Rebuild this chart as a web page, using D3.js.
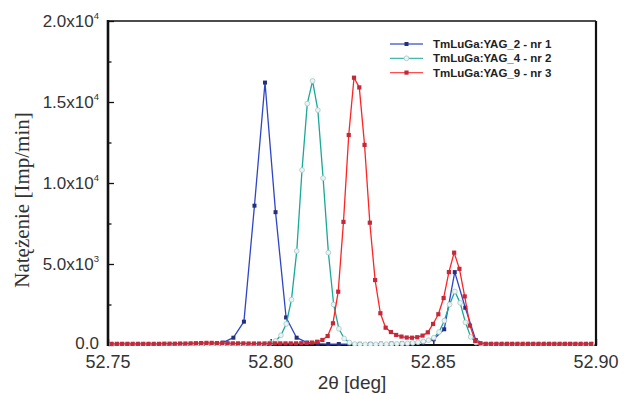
<!DOCTYPE html>
<html><head><meta charset="utf-8">
<script src="https://cdn.jsdelivr.net/npm/d3@7"></script>
<style>html,body{margin:0;padding:0;background:#fff;}svg{display:block;}</style>
</head><body>
<script>
// ---- data ----
const xDomain = [52.75, 52.90];
const yDomain = [0, 20000];
const xTicks = [52.75, 52.80, 52.85, 52.90];
const xTickLabels = ["52.75", "52.80", "52.85", "52.90"];
const yTicks = [0, 5000, 10000, 15000, 20000];
const yTickMant = ["0.0", "5.0x10", "1.0x10", "1.5x10", "2.0x10"];
const yTickExp = ["", "3", "4", "4", "4"];
const seriesNames = ["TmLuGa:YAG_2 - nr 1", "TmLuGa:YAG_4 - nr 2", "TmLuGa:YAG_9 - nr 3"];

// scan grids (start, step) and measured intensities
const blueStart = 52.7529, blueStep = 0.00324;
const blueY = [30,30,30,30,30,40,40,50,50,60,150,450,1440,8600,16200,8200,1700,450,150,80,
  60,60,60,70,70,80,90,100,120,160,350,970,4500,2300,300,60,40,40,40,40,40,40,40,40,40,40];

const cyanStart = 52.7497, cyanStep = 0.00162;
const cyanY = [30,30,30,30,30,30,30,30,30,30,30,30,30,30,30,30,30,30,30,30,
  30,30,30,30,35,35,35,40,40,40,
  70,120,250,600,1300,2800,5800,10800,14900,16300,14500,10300,5700,2500,1000,400,150,60,
  40,40,40,40,50,50,60,70,80,100,130,170,220,300,450,800,1500,2500,3300,2600,1400,500,150,
  40,40,40,40,40,40,40,40,40,40,40,40,40,40,40,40,40,40,40,40,40,40];

const redStart = 52.7511, redStep = 0.00162;
const redY = [70,70,70,70,70,70,70,70,70,70,80,80,80,90,90,100,110,120,130,130,
  120,120,110,100,100,100,90,90,90,90,100,100,100,100,100,100,110,
  120,150,200,310,555,1340,3290,7600,12960,16500,15900,12350,7550,4010,1960,1070,
  800,620,520,460,450,480,580,780,1300,1900,2900,4500,5700,4700,3000,1200,250,100,
  70,70,70,70,70,70,70,70,70,70,70,70,70,70,70,70,70,70,70,70,70];

const toPts = (start, step, ys) => ys.map((v, i) => ({x: start + i * step, y: v}));
const series = [
  {name: seriesNames[0], pts: toPts(blueStart, blueStep, blueY), line: "#2f45c8", mark: "#24307e", shape: "square", ms: 4},
  {name: seriesNames[1], pts: toPts(cyanStart, cyanStep, cyanY), line: "#1aa898", mark: "#eaf4f4", stroke: "#a9c6c6", shape: "circle", ms: 2.4},
  {name: seriesNames[2], pts: toPts(redStart, redStep, redY), line: "#ff2424", mark: "#c22a3c", shape: "square", ms: 4.2}
];

// ---- layout ----
const W = 629, H = 394;
const m = {left: 108, right: 596, top: 21, bottom: 345};
const svg = d3.select("body").append("svg").attr("width", W).attr("height", H);
const x = d3.scaleLinear().domain(xDomain).range([m.left, m.right]);
const y = d3.scaleLinear().domain(yDomain).range([m.bottom, m.top]);

const g = svg.append("g");

// ---- frame & axes (drawn under the data) ----
const frame = g.append("g");
frame.append("line").attr("x1", m.left).attr("x2", m.right).attr("y1", m.top).attr("y2", m.top).attr("stroke", "#111").attr("stroke-width", 1.6);
frame.append("line").attr("x1", m.right).attr("x2", m.right).attr("y1", m.top).attr("y2", m.bottom + 1).attr("stroke", "#111").attr("stroke-width", 2.2);
frame.append("line").attr("x1", m.left).attr("x2", m.right).attr("y1", m.bottom).attr("y2", m.bottom).attr("stroke", "#111").attr("stroke-width", 2.2);
frame.append("line").attr("x1", m.left).attr("x2", m.left).attr("y1", m.top - 1).attr("y2", m.bottom + 1).attr("stroke", "#111").attr("stroke-width", 2.6);

const yAxis = d3.axisRight(y).tickValues(d3.range(0, 20001, 2500)).tickSize(0).tickFormat("");
const ya = g.append("g").attr("transform", `translate(${m.left},0)`).call(yAxis);
ya.select(".domain").remove();
ya.selectAll(".tick").append("line").attr("x1", 0)
  .attr("x2", d => (d % 5000 === 0 ? 6 : 3.5)).attr("stroke", "#111").attr("stroke-width", 1.3);

const xAxis = d3.axisTop(x).tickValues(xTicks).tickSize(0).tickFormat("");
const xa = g.append("g").attr("transform", `translate(0,${m.bottom})`).call(xAxis);
xa.select(".domain").remove();
xa.selectAll(".tick").append("line").attr("y1", 0).attr("y2", -6).attr("stroke", "#111").attr("stroke-width", 1.3);

// ---- data marks ----
const clipId = "plotclip";
svg.append("defs").append("clipPath").attr("id", clipId).append("rect")
  .attr("x", m.left + 1).attr("y", m.top - 2).attr("width", m.right - m.left - 2).attr("height", m.bottom - m.top + 3);
const plot = g.append("g").attr("clip-path", `url(#${clipId})`);

const line = d3.line().x(d => x(d.x)).y(d => y(d.y));
series.forEach(s => {
  plot.append("path").datum(s.pts).attr("d", line).attr("fill", "none")
    .attr("stroke", s.line).attr("stroke-width", 1.3).attr("stroke-linejoin", "round");
  if (s.shape === "square") {
    plot.selectAll(null).data(s.pts).enter().append("rect")
      .attr("x", d => x(d.x) - s.ms / 2).attr("y", d => y(d.y) - s.ms / 2)
      .attr("width", s.ms).attr("height", s.ms).attr("fill", s.mark);
  } else {
    plot.selectAll(null).data(s.pts).enter().append("circle")
      .attr("cx", d => x(d.x)).attr("cy", d => y(d.y)).attr("r", s.ms)
      .attr("fill", s.mark).attr("stroke", s.stroke).attr("stroke-width", 0.8);
  }
});

// tick labels
const lblFont = "'Liberation Sans', Arial, sans-serif";
xTicks.forEach((t, i) => {
  g.append("text").attr("x", x(t)).attr("y", 368).attr("text-anchor", "middle")
    .attr("font-family", lblFont).attr("font-size", 18).attr("fill", "#333").text(xTickLabels[i]);
});
yTicks.forEach((t, i) => {
  const tx = g.append("text").attr("x", 99).attr("y", y(t) + (t === 0 ? 4 : 6)).attr("text-anchor", "end")
    .attr("font-family", lblFont).attr("font-size", 17).attr("fill", "#333");
  tx.append("tspan").text(yTickMant[i]);
  if (yTickExp[i]) tx.append("tspan").attr("dy", -8).attr("font-size", 9.5).text(yTickExp[i]);
});

// axis titles
g.append("text").attr("x", (m.left + m.right) / 2).attr("y", 389).attr("text-anchor", "middle")
  .attr("font-family", lblFont).attr("font-size", 19).attr("fill", "#333").text("2θ [deg]");
g.append("text").attr("transform", "translate(29,200) rotate(-90)").attr("text-anchor", "middle")
  .attr("font-family", "'Liberation Serif', 'Times New Roman', serif").attr("font-size", 21).attr("fill", "#333")
  .text("Natężenie [Imp/min]");

// legend
const leg = g.append("g");
const legY = [44, 58.3, 72.6];
series.forEach((s, i) => {
  const ly = legY[i];
  leg.append("line").attr("x1", 390).attr("x2", 423).attr("y1", ly).attr("y2", ly)
    .attr("stroke", s.line).attr("stroke-width", 1.3).attr("opacity", 0.8);
  if (s.shape === "square") {
    leg.append("rect").attr("x", 406.5 - s.ms / 2).attr("y", ly - s.ms / 2).attr("width", s.ms).attr("height", s.ms).attr("fill", s.mark);
  } else {
    leg.append("circle").attr("cx", 406.5).attr("cy", ly).attr("r", s.ms).attr("fill", s.mark).attr("stroke", s.stroke).attr("stroke-width", 0.8);
  }
  leg.append("text").attr("x", 433).attr("y", ly + 4).attr("font-family", lblFont)
    .attr("font-size", 11.5).attr("font-weight", "bold").attr("fill", "#222").text(s.name);
});
</script>
</body></html>
